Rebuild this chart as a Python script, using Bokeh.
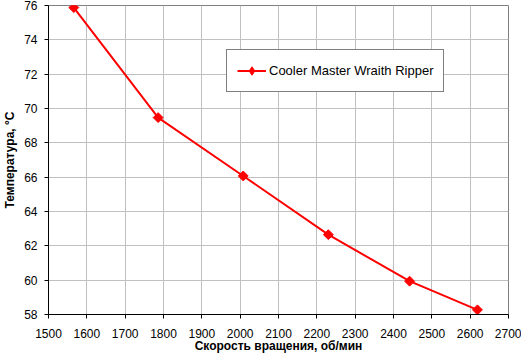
import math
from bokeh.plotting import figure
from bokeh.models import Legend, LegendItem, FixedTicker, Range1d
from bokeh.embed import file_html
from bokeh.resources import INLINE

# Data
speed = [1566, 1786, 2008, 2230, 2442, 2619]
temp = [75.88, 69.47, 66.07, 62.65, 59.94, 58.27]
x_ticks = list(range(1500, 2701, 100))
y_ticks = list(range(58, 77, 2))
series_name = "Cooler Master Wraith Ripper"
x_title = "Скорость вращения, об/мин"
y_title = "Температура, °С"

FONT = "Liberation Sans"

p = figure(width=521, height=355, output_backend="svg", toolbar_location=None,
           x_range=Range1d(1500, 2700), y_range=Range1d(58, 76),
           min_border_left=47, min_border_right=13, min_border_top=5,
           min_border_bottom=41, background_fill_color="white",
           border_fill_color="white")
p.styles = {"position": "absolute", "top": "0px", "left": "0px"}

p.outline_line_color = "#808080"
p.outline_line_width = 1

for ax, ticks in ((p.xaxis, x_ticks), (p.yaxis, y_ticks)):
    ax.ticker = FixedTicker(ticks=ticks)
    ax.major_tick_out = 4
    ax.major_tick_in = 0
    ax.minor_tick_line_color = None
    ax.axis_line_color = "black"
    ax.major_tick_line_color = "black"
    ax.major_label_text_font = FONT
    ax.major_label_text_font_size = "12px"
    ax.major_label_text_color = "black"
    ax.axis_label_text_font = FONT
    ax.axis_label_text_font_size = "12px"
    ax.axis_label_text_font_style = "bold"
    ax.axis_label_text_color = "black"

p.xaxis.axis_label = x_title
p.yaxis.axis_label = y_title
p.xaxis.major_label_standoff = 10
p.xaxis.axis_label_standoff = -2
p.yaxis.major_label_standoff = 7
p.yaxis.axis_label_standoff = 4

p.xgrid.ticker = FixedTicker(ticks=x_ticks)
p.ygrid.ticker = FixedTicker(ticks=y_ticks)
p.grid.grid_line_color = "#c0c0c0"
p.grid.grid_line_width = 1

line_r = p.line(speed, temp, line_color="#ff0000", line_width=2)
# legend marker (diamond as in the reference legend); its single point is
# hidden underneath the first data marker
leg_mark = p.scatter(x=speed[:1], y=temp[:1], marker="diamond", size=9,
                     fill_color="#ff0000", line_color="#ff0000")
mark_r = p.scatter(speed, temp, marker="square", angle=math.pi / 4, size=7,
                   fill_color="#ff0000", line_color="#ff0000")

legend = Legend(items=[LegendItem(label=series_name, renderers=[line_r, leg_mark])],
                location=(178, 222), margin=0, padding=10, spacing=0,
                glyph_width=29, glyph_height=21, label_height=21,
                label_standoff=3, border_line_color="black",
                border_line_width=1, background_fill_color="white",
                background_fill_alpha=1.0,
                label_text_font=FONT, label_text_font_size="13px",
                label_text_color="black")
p.add_layout(legend)

open("out.html", "w").write(file_html(p, INLINE))
